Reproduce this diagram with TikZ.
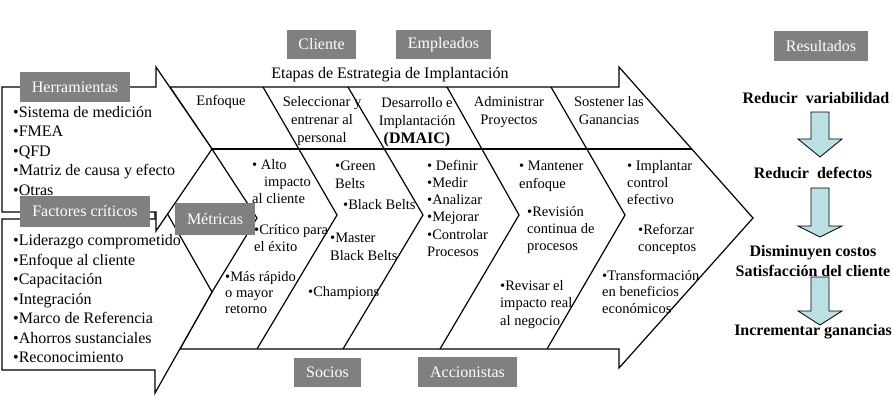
\documentclass[tikz,border=0pt]{standalone}
\usepackage{fontspec}
\setmainfont{Liberation Serif}
\definecolor{boxgray}{RGB}{128,128,128}
\definecolor{arrowfill}{RGB}{185,224,227}
\begin{document}
\begin{tikzpicture}[
    x=1pt,y=-1pt,
    outline/.style={draw=black,fill=white,line width=1.2pt,line join=miter},
    divider/.style={draw=black,line width=1.2pt},
    graybox/.style={fill=boxgray,text=white,inner sep=0pt,font=\fontsize{16}{19}\selectfont},
    biglist/.style={font=\fontsize{16}{19.6}\selectfont,align=left,anchor=base west,inner sep=0pt},
    stage/.style={font=\fontsize{14.5}{18}\selectfont,align=center,anchor=base,inner sep=0pt},
    item/.style={font=\fontsize{14.5}{17}\selectfont,align=left,anchor=base west,inner sep=0pt},
    result/.style={font=\bfseries\fontsize{16}{20}\selectfont,align=center,anchor=base,inner sep=0pt},
    down/.style={draw=black,fill=arrowfill,line width=0.8pt}
]
    \useasboundingbox (0,0) rectangle (894,400);

    \draw[outline] (170,87) -- (619,87) -- (619,67) -- (753,218) -- (619,368) -- (619,349)
        -- (180,349) -- (212,292) -- (257,218) -- (212,149) -- cycle;
    \draw[divider] (212,149) -- (692,149);
    \draw[divider] (263,87) -- (337,215) -- (257,349);
    \draw[divider] (348,87) -- (423,215) -- (343,349);
    \draw[divider] (447,87) -- (519,215) -- (440,349);
    \draw[divider] (551,87) -- (625,215) -- (547,349);

    \draw[outline] (2,219) -- (155,219) -- (155,192) -- (212,292) -- (155,393) -- (155,370)
        -- (2,370) -- cycle;
    \draw[outline] (2,87) -- (156,87) -- (156,67) -- (212,149) -- (156,231) -- (156,212)
        -- (2,212) -- cycle;

    \node[biglist] (tools) at (13,195.5)
        {•Sistema de medición\\•FMEA\\•QFD\\•Matriz de causa y efecto\\•Otras};
    \node[biglist,font=\fontsize{16}{19.5}\selectfont] (factors) at (13,362.7)
        {•Liderazgo comprometido\\•Enfoque al cliente\\•Capacitación\\•Integración\\•Marco de Referencia\\•Ahorros sustanciales\\•Reconocimiento};

    \node[font=\fontsize{16}{19}\selectfont,anchor=base,inner sep=0pt] (title) at (390,78.7)
        {Etapas de Estrategia de Implantación};

    \node[stage] (st1) at (221,105.3) {Enfoque};
    \node[stage] (st2) at (322,142.3) {Seleccionar y\\entrenar al\\personal};
    \node[stage] (st3) at (417,143) {Desarrollo e\\Implantación\\\textbf{\fontsize{16}{18}\selectfont(DMAIC)}};
    \node[stage] (st4) at (509,124.3) {Administrar\\Proyectos};
    \node[stage] (st5) at (609,124.5) {Sostener las\\Ganancias};

    \node[item] (m1) at (252,203.3) {• Alto\\\hspace*{12pt}impacto\\al cliente};
    \node[item] (m2) at (254,251.3) {•Crítico para\\el éxito};
    \node[item,font=\fontsize{14.5}{16}\selectfont] (m3) at (225,313.3) {•Más rápido\\o mayor\\retorno};

    \node[item,font=\fontsize{14.5}{18}\selectfont] (p1) at (335,188.3) {•Green\\Belts};
    \node[item] (p2) at (343,209.3) {•Black Belts};
    \node[item,font=\fontsize{14.5}{18}\selectfont] (p3) at (330,260.3) {•Master\\Black Belts};
    \node[item] (p4) at (308,296.3) {•Champions};

    \node[item,font=\fontsize{14.5}{17.2}\selectfont] (d1) at (427,256.3)
        {• Definir\\•Medir\\•Analizar\\•Mejorar\\•Controlar\\Procesos};

    \node[item,font=\fontsize{14.5}{18}\selectfont] (a1) at (519,188.3) {• Mantener\\enfoque};
    \node[item] (a2) at (527,250.3) {•Revisión\\continua de\\procesos};
    \node[item,font=\fontsize{14.5}{17.5}\selectfont] (a3) at (500,325.3) {•Revisar el\\impacto real\\al negocio};

    \node[item] (s1) at (627,204.3) {• Implantar\\control\\efectivo};
    \node[item] (s2) at (638,251.3) {•Reforzar\\conceptos};
    \node[item,font=\fontsize{14.5}{16.5}\selectfont] (s3) at (602,313.3) {•Transformación\\en beneficios\\económicos};

    \node[result] (r1) at (816,103.7) {Reducir\ \ variabilidad};
    \node[result] (r2) at (813,178.7) {Reducir\ \ defectos};
    \node[result] (r3) at (813,276.7) {Disminuyen costos\\Satisfacción del cliente};
    \node[result] (r4) at (813,335.7) {Incrementar ganancias};

    \draw[down] (811,112) -- (829,112) -- (829,139) -- (842,139) -- (820,157) -- (798,139)
        -- (811,139) -- cycle;
    \draw[down] (811,188) -- (829,188) -- (829,226) -- (842,226) -- (820,237) -- (798,226)
        -- (811,226) -- cycle;
    \draw[down] (811,277) -- (829,277) -- (829,311) -- (842,311) -- (820,325) -- (798,311)
        -- (811,311) -- cycle;

    \node[graybox,minimum width=110pt,minimum height=30pt] (herr) at (75,87) {Herramientas};
    \node[graybox,minimum width=130pt,minimum height=31pt] (fact) at (85,211.5) {Factores críticos};
    \node[graybox,minimum width=80pt,minimum height=32pt] (metr) at (215,219) {Métricas};
    \node[graybox,minimum width=69pt,minimum height=29pt] (clie) at (321.5,44.5) {Cliente};
    \node[graybox,minimum width=95pt,minimum height=29pt] (empl) at (443.5,44.5) {Empleados};
    \node[graybox,minimum width=67pt,minimum height=29pt] (soci) at (327.5,372.5) {Socios};
    \node[graybox,minimum width=99pt,minimum height=30pt] (acci) at (467.5,372) {Accionistas};
    \node[graybox,minimum width=94pt,minimum height=30pt] (resu) at (821,46) {Resultados};
\end{tikzpicture}
\end{document}
